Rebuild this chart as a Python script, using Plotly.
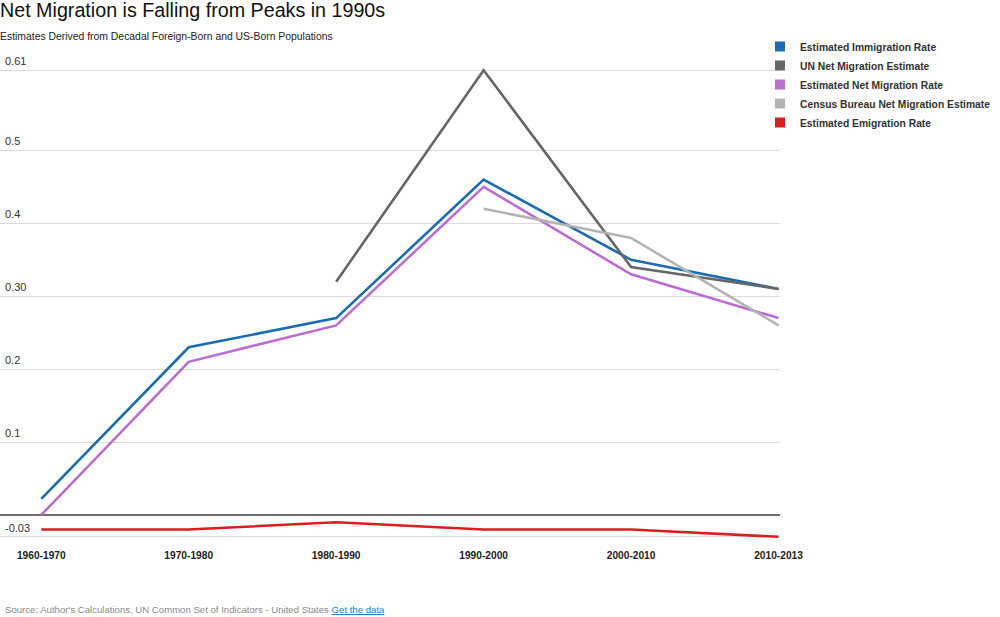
import plotly.graph_objects as go

# Dekaden / Kategorien
periods = ["1960-1970", "1970-1980", "1980-1990", "1990-2000", "2000-2010", "2010-2013"]

# Serienwerte
immigration = [0.022, 0.23, 0.27, 0.46, 0.35, 0.31]
un_net = [None, None, 0.32, 0.61, 0.34, 0.31]
net_migration = [0.0, 0.21, 0.26, 0.45, 0.33, 0.27]
census_net = [None, None, None, 0.42, 0.38, 0.26]
emigration = [-0.02, -0.02, -0.01, -0.02, -0.02, -0.03]

# y-Achse Ticks
y_tickvals = [0.61, 0.5, 0.4, 0.3, 0.2, 0.1, 0, -0.03]
y_ticktext = ["0.61", "0.5", "0.4", "0.30", "0.2", "0.1", "", "-0.03"]

series = [
    ("Estimated Immigration Rate", immigration, "#1b6db3"),
    ("UN Net Migration Estimate", un_net, "#676767"),
    ("Estimated Net Migration Rate", net_migration, "#bb6fd1"),
    ("Census Bureau Net Migration Estimate", census_net, "#b4b4b4"),
    ("Estimated Emigration Rate", emigration, "#db1f1f"),
]

FONT = "Liberation Sans, Arial, sans-serif"
x_idx = list(range(len(periods)))

fig = go.Figure()

# Linien
for name, vals, col in series:
    fig.add_trace(go.Scatter(x=x_idx, y=vals, mode="lines", name=name,
                             line=dict(color=col, width=2.6),
                             showlegend=False, hoverinfo="skip"))

# Legende mit Quadraten
for name, vals, col in series:
    fig.add_trace(go.Scatter(x=[None], y=[None], mode="markers", name=name,
                             marker=dict(symbol="square", size=10, color=col)))

fig.update_layout(
    width=1000, height=617,
    paper_bgcolor="white", plot_bgcolor="white",
    margin=dict(l=0, r=220, t=52, b=78, autoexpand=False),
    font=dict(family=FONT, size=11, color="#333333"),
    showlegend=True,
    legend=dict(xref="container", yref="container", x=0.760, xanchor="left",
                y=1 - 32 / 617, yanchor="top",
                font=dict(family=FONT, size=10.3, color="#333333", weight="bold"),
                itemwidth=30, tracegroupgap=0, bgcolor="rgba(0,0,0,0)"),
    xaxis=dict(range=[-0.28, 5.01], tickvals=x_idx, ticktext=periods,
               showgrid=False, zeroline=False, showline=False,
               ticks="outside", ticklen=7, tickcolor="rgba(0,0,0,0)",
               tickfont=dict(family=FONT, size=10.2, color="#222222", weight="bold")),
    yaxis=dict(range=[-0.033, 0.635], tickvals=y_tickvals, ticktext=y_ticktext,
               showgrid=True, gridcolor="#dddddd", gridwidth=1,
               zeroline=True, zerolinecolor="#6e6e6e", zerolinewidth=2,
               showline=False, ticks="",
               ticklabelposition="inside", ticklabelshift=-9, ticklabelstandoff=2,
               tickfont=dict(family=FONT, size=11, color="#333333")),
    annotations=[
        dict(text="Net Migration is Falling from Peaks in 1990s", x=0, y=1,
             xref="paper", yref="paper", xanchor="left", yanchor="top",
             xshift=-2, yshift=55, showarrow=False,
             font=dict(family=FONT, size=19.7, color="#111111")),
        dict(text="Estimates Derived from Decadal Foreign-Born and US-Born Populations",
             x=0, y=1, xref="paper", yref="paper", xanchor="left", yanchor="top",
             xshift=-2, yshift=23, showarrow=False,
             font=dict(family=FONT, size=10.4, color="#222222")),
        dict(text="Source: Author's Calculations, UN Common Set of Indicators - United States "
                  "<span style='color:#1a7fd0'><u>Get the data</u></span>",
             x=0, y=0, xref="paper", yref="paper", xanchor="left", yanchor="middle",
             xshift=3, yshift=-70, showarrow=False,
             font=dict(family=FONT, size=9.6, color="#888888")),
    ],
)

fig.write_html("out.html", config={"displayModeBar": False},
               post_script="document.body.style.margin='0';")
